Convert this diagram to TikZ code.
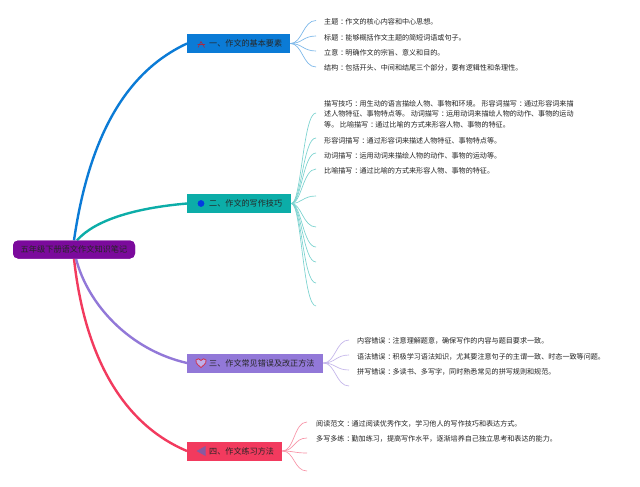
\documentclass[tikz,border=0pt]{standalone}
\usepackage{fontspec}
\setmainfont{Noto Sans CJK SC}
\newcommand\kc{\kern.3em：\kern-.3em}
\definecolor{cRoot}{HTML}{7B0A9C}
\definecolor{cBlue}{HTML}{0B7BD6}
\definecolor{cTeal}{HTML}{0CADA8}
\definecolor{cPurp}{HTML}{9278D8}
\definecolor{cPink}{HTML}{F23A5E}
\definecolor{cInk}{HTML}{222222}
\tikzset{
  rootbox/.style={draw=none,fill=cRoot,rounded corners=5pt,minimum width=122pt,minimum height=18pt,inner sep=0pt,text=black!85,font=\fontsize{8.2}{10}\selectfont},
  topicbox/.style={draw=none,fill=#1,anchor=west,minimum height=19pt,inner xsep=0pt,inner ysep=0pt,align=left,text=black!85,font=\fontsize{8.1}{10}\selectfont},
  leaf/.style={anchor=west,inner sep=0pt,align=left,text=cInk,yshift=-0.7pt,font=\fontsize{7.08}{10.7}\selectfont},
  mainlink/.style={line width=2.4pt,#1},
  sublink/.style={line width=0.65pt,#1!55!white},
}
\begin{document}
\begin{tikzpicture}[x=1pt,y=-1pt]
\useasboundingbox (0,0) rectangle (640,487);
\fill[white] (0,0) rectangle (640,487);

\node[rootbox] (root) at (74,249.5) {五年级下册语文作文知识笔记};
\node[topicbox=cBlue,text width=103pt] (b1) at (187,43.5) {\hspace*{22pt}一、作文的基本要素};
\node[topicbox=cTeal,text width=104pt] (b2) at (187,203.5) {\hspace*{22pt}二、作文的写作技巧};
\node[topicbox=cPurp,text width=136pt] (b3) at (187,363) {\hspace*{22pt}三、作文常见错误及改正方法};
\node[topicbox=cPink,text width=95pt] (b4) at (187,451) {\hspace*{22pt}四、作文练习方法};

\draw[mainlink=cBlue] (root.north) .. controls (90,130) and (130,70) .. (b1.west);
\draw[mainlink=cTeal] (root.north) ++(3,0) coordinate (rt) .. controls (95,220) and (135,208) .. (b2.west);
\draw[mainlink=cPink] (root.south) .. controls (85,360) and (125,425) .. (b4.west);
\draw[mainlink=cPurp] (root.south) ++(2,0) coordinate (rs) .. controls (88,305) and (130,350) .. (b3.west);
\node[rootbox] (root) at (74,249.5) {五年级下册语文作文知识笔记};

% icons
\draw[draw=cPink!70!black,line width=0.6pt] (198,47.5) -- (201,41.5) -- (204.5,47.5) (197.5,44.5) -- (205,44.5);
\fill[blue!65!cTeal] (201,203.5) circle (3.4pt);
\draw[draw=cPink!85!black,fill=cPurp!60!white,line width=0.8pt] (201,367.5) .. controls (196,363.5) and (195,361.5) .. (196,360) .. controls (197,358) and (200,358.5) .. (201,360.5) .. controls (202,358.5) and (205,358) .. (206,360) .. controls (207,361.5) and (206,363.5) .. (201,367.5) -- cycle;
\fill[cPurp!80!black!85!cPink] (196.5,451) -- (205.5,446) -- (205.5,456) -- cycle;

% leaves of b1
\node[leaf] (l11) at (324,21) {主题\kc 作文的核心内容和中心思想。};
\node[leaf] (l12) at (324,37) {标题\kc 能够概括作文主题的简短词语或句子。};
\node[leaf] (l13) at (324,52) {立意\kc 明确作文的宗旨、意义和目的。};
\node[leaf] (l14) at (324,67.5) {结构\kc 包括开头、中间和结尾三个部分，要有逻辑性和条理性。};
\foreach \n/\y in {a/20.5,b/36,c/51,d/67}{
  \coordinate (e1\n) at (316,\y);
  \draw[sublink=cBlue] (b1.east) .. controls +(12,0) and +(-13,0) .. (e1\n);
}

% leaves of b2
\node[leaf] (l21) at (324,113.5) {描写技巧\kc 用生动的语言描绘人物、事物和环境。 形容词描写\kc 通过形容词来描\\述人物特征、事物特点等。 动词描写\kc 运用动词来描绘人物的动作、事物的运动\\等。 比喻描写\kc 通过比喻的方式来形容人物、事物的特征。};
\node[leaf] (l22) at (324,140) {形容词描写\kc 通过形容词来描述人物特征、事物特点等。};
\node[leaf] (l23) at (324,155.5) {动词描写\kc 运用动词来描绘人物的动作、事物的运动等。};
\node[leaf] (l24) at (324,170.5) {比喻描写\kc 通过比喻的方式来形容人物、事物的特征。};
\foreach \n/\y in {a/113,b/138,c/153,d/169,e/196,f/227,g/247,h/262,i/283,j/306}{
  \coordinate (e2\n) at (316,\y);
  \draw[sublink=cTeal] (b2.east) .. controls +(10,0) and +(-13,0) .. (e2\n);
}

% leaves of b3
\node[leaf] (l31) at (357,340.5) {内容错误\kc 注意理解题意，确保写作的内容与题目要求一致。};
\node[leaf] (l32) at (357,356) {语法错误\kc 积极学习语法知识，尤其要注意句子的主谓一致、时态一致等问题。};
\node[leaf] (l33) at (357,371.5) {拼写错误\kc 多读书、多写字，同时熟悉常见的拼写规则和规范。};
\foreach \n/\y in {a/340,b/355,c/370,d/386}{
  \coordinate (e3\n) at (349,\y);
  \draw[sublink=cPurp] (b3.east) .. controls +(12,0) and +(-13,0) .. (e3\n);
}

% leaves of b4
\node[leaf] (l41) at (316,423) {阅读范文\kc 通过阅读优秀作文，学习他人的写作技巧和表达方式。};
\node[leaf] (l42) at (316,438.5) {多写多练\kc 勤加练习，提高写作水平，逐渐培养自己独立思考和表达的能力。};
\foreach \n/\y in {a/422,b/438,c/453,d/471}{
  \coordinate (e4\n) at (307,\y);
  \draw[sublink=cPink] (b4.east) .. controls +(12,0) and +(-13,0) .. (e4\n);
}
\end{tikzpicture}
\end{document}
